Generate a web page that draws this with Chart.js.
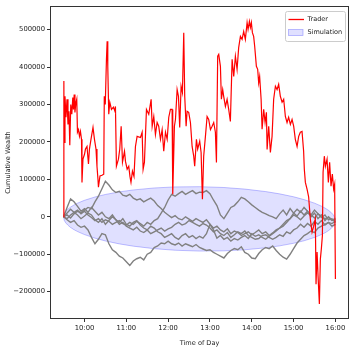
<!DOCTYPE html>
<html><head><meta charset="utf-8">
<script src="https://cdn.jsdelivr.net/npm/chart.js@4.4.1/dist/chart.umd.min.js"></script>
<style>html,body{margin:0;padding:0;background:#fff}#wrap{width:354px;height:355px;position:relative}</style>
</head><body><div id="wrap"><canvas id="c" width="354" height="355"></canvas></div>
<script>
// x tick labels (time of day) and y tick values
const xTickLabels = ['10:00','11:00','12:00','13:00','14:00','15:00','16:00'];
const yTickValues = [-200000,-100000,0,100000,200000,300000,400000,500000];
const dayStart = '9:30';

// Trader cumulative wealth: minutes since 9:30, value in thousands
const traderMinutes = [
 0,0.4,0.7,2.0,3.4,4.9,6.3,7.7,8.9,10.3,
 11.8,13.2,14.2,15.2,16.3,17.5,18.9,19.9,21.4,22.8,
 24.2,25.7,26.4,27.8,30.0,31.4,33.6,35.7,37.1,39.3,
 42.2,44.3,46.5,47.9,49.3,50.0,52.2,55.1,57.6,58.4,
 59.8,61.5,62.5,63.4,64.8,66.3,68.7,71.5,73.7,74.4,
 75.8,78.7,80.6,82.6,84.5,87.4,88.8,91.2,93.5,95.2,
 96.7,98.8,101.0,103.1,105.5,110.3,112.7,114.1,116.0,118.9,
 122.2,125.6,127.1,129.4,131.8,134.2,136.5,139.0,141.4,143.7,
 146.2,148.6,150.9,153.3,155.7,156.6,159.0,160.5,162.9,164.8,
 166.6,168.6,170.5,172.4,173.8,175.8,177.2,179.5,182.0,184.4,
 186.7,188.1,190.6,192.4,195.3,197.3,199.2,201.0,203.5,205.9,
 208.2,210.7,213.1,215.4,217.8,219.3,221.1,222.6,225.0,226.4,
 228.3,229.7,232.2,234.6,236.9,239.3,241.8,244.1,246.5,248.9,
 251.2,253.7,256.1,258.4,260.8,263.3,264.7,266.6,268.0,269.4,
 270.9,272.7,274.2,276.6,278.5,279.9,281.3,283.4,284.8,287.1,
 289.1,291.0,292.0,294.3,296.7,299.1,301.4,303.9,306.3,308.6,
 311.0,313.5,315.8,318.2,320.6,322.9,325.4,327.8,330.1,332.5,
 335.0,337.3,339.7,342.1,344.4,345.4,346.9,349.3,351.6,354.0,
 356.5,358.8,361.2,362.2,363.7,365.1,367.0,368.4,369.8,371.3,
 372.3,374.1,375.6,378.0,379.9,381.7,383.7,385.6,387.5,388.9,
 390.0
];
const traderK = [
 0,363,199,322,266,314,247,282,191,300,
 274,319,287,327,279,303,314,226,233,215,
 228,207,92,154,167,181,188,141,181,207,
 239,207,181,135,101,79,109,111,114,322,
 300,421,469,402,274,306,287,293,282,295,
 135,154,181,242,146,175,148,127,135,108,
 92,122,108,188,215,212,226,127,146,287,
 274,314,242,268,220,252,242,207,233,175,
 226,207,266,287,287,60,242,260,340,322,
 239,349,332,492,322,242,282,279,252,188,
 162,135,207,181,202,172,47,162,215,268,
 260,233,242,252,226,145,429,434,402,314,
 340,322,295,314,287,255,421,375,429,394,
 452,482,474,495,474,519,501,522,506,519,
 492,482,455,402,394,358,375,314,234,287,
 252,279,180,242,172,215,314,349,340,354,
 322,306,314,268,252,266,247,260,242,207,
 188,215,226,228,175,127,92,74,53,-6,
 -41,-25,-6,-180,-94,-158,-233,-113,-86,-51,
 119,162,135,154,92,146,82,114,74,87,
 -166
];

// Simulated paths: sampled every 5 minutes since 9:30, values in thousands
const simMinutes = [
 0,5,10,15,20,25,30,35,40,45,
 50,55,60,65,70,75,80,85,90,95,
 100,105,110,115,120,125,130,135,140,145,
 150,155,160,165,170,175,180,185,190,195,
 200,205,210,215,220,225,230,235,240,245,
 250,255,260,265,270,275,280,285,290,295,
 300,305,310,315,320,325,330,335,340,345,
 350,355,360,365,370,375,380,385,390
];
const simPathA = [
 0,5,-3,8,15,10,18,25,22,40,
 55,75,95,85,72,65,68,58,55,60,
 50,45,48,40,45,50,42,30,22,12,
 5,-2,3,-5,-8,0,-6,-12,-5,-10,
 -15,-8,-20,-30,-25,-35,-40,-32,-45,-38,
 -42,-50,-45,-40,-48,-42,-35,-45,-40,-50,
 -43,-35,-30,-20,-10,-5,5,0,-8,2,
 10,5,-3,8,2,-5,-2,-10,-8
];
const simPathB = [
 0,10,20,12,18,8,15,5,-2,-10,
 -5,-15,-8,-12,-20,-15,-10,-18,-22,-15,
 -20,-12,-18,-25,-15,-20,-10,-5,10,25,
 45,60,55,62,68,60,65,70,62,66,
 65,70,62,45,30,5,-5,10,25,30,
 40,52,48,40,32,25,18,12,8,3,
 0,-5,8,18,5,22,10,2,15,5,
 15,0,10,-5,5,-10,0,-8,-5
];
const simPathC = [
 0,-8,-15,-10,-22,-28,-25,-35,-55,-72,
 -60,-45,-48,-72,-88,-95,-105,-110,-120,-130,
 -118,-112,-108,-115,-100,-95,-82,-78,-70,-72,
 -65,-72,-75,-70,-78,-72,-76,-80,-74,-82,
 -86,-90,-88,-95,-100,-105,-110,-98,-90,-85,
 -88,-80,-95,-100,-110,-112,-98,-88,-82,-85,
 -78,-90,-100,-108,-113,-100,-85,-70,-60,-50,
 -45,-38,-42,-30,-25,-20,-15,-18,-12
];
const simPathD = [
 0,25,48,40,28,15,22,12,25,15,
 5,12,0,-5,5,-8,-15,-5,-20,-25,
 -15,-10,-22,-30,-35,-25,-30,-40,-45,-55,
 -50,-45,-55,-60,-50,-45,-55,-50,-58,-52,
 -57,-45,-20,-35,-57,-50,-60,-55,-65,-58,
 -62,-55,-50,-58,-45,-52,-48,-55,-60,-52,
 -45,-38,-30,-25,-15,-5,10,20,12,25,
 15,5,18,8,-2,5,-8,-5,-15
];
const simPathE = [
 0,-5,5,12,5,-5,2,10,5,-8,
 -15,-5,-20,-10,0,-8,-20,-15,-25,-30,
 -35,-28,-38,-42,-35,-45,-40,-35,-30,-38,
 -32,-28,-20,-15,-22,-18,-10,-15,-20,-25,
 -18,-22,-30,-40,-35,-45,-50,-42,-55,-48,
 -40,-45,-38,-50,-55,-60,-58,-50,-48,-55,
 -60,-55,-48,-52,-40,-45,-35,-30,-20,-28,
 -18,-25,-12,-20,-10,-22,-15,-25,-20
];

// Simulation envelope (band), minutes since 9:30, values in thousands
const bandMinutes = [0,1,3,6,10,15,20,30,45,60,80,100,130,160,195,230,260,290,310,330,345,360,370,375,380,384,387,389,390];
const bandUpperK = [-1,7.7,14,20,26,31.7,36.5,44.1,53,59.7,66.6,71.8,77.1,79.9,80.5,78.3,74.1,67.4,61.3,53.5,46,36.5,28.4,23.4,17.4,11.3,5.1,-1.3,-10];
const bandLowerK = [-1,-9.7,-16,-22,-28.4,-34.4,-39.4,-47.5,-57,-64.5,-72.3,-78.4,-85.1,-89.3,-91.5,-90.9,-88.1,-82.8,-77.6,-70.7,-64,-55.1,-47.4,-42.8,-37,-31.1,-24.9,-18.7,-10];

const seriesLabels = ['Trader','Simulation'];

// ---- build chart ----
function toMinutes(hhmm){const [h,m]=hhmm.split(':').map(Number);const [h0,m0]=dayStart.split(':').map(Number);return (h*60+m)-(h0*60+m0);}
function pts(xs, ys){return xs.map((m,i)=>({x:m, y:ys[i]*1000}));}
const FONT = 'DejaVu Sans';
Chart.defaults.font.family = FONT;

const grayPaths = [simPathA, simPathB, simPathC, simPathD, simPathE];
const datasets = [
  {label: seriesLabels[0], data: pts(traderMinutes, traderK), borderColor:'#ff0000', borderWidth:1.2, pointRadius:0, fill:false, order:0}
];
grayPaths.forEach(p => datasets.push({label:'_path', data: pts(simMinutes, p), borderColor:'#808080', borderWidth:1.4, pointRadius:0, fill:false, order:1}));
datasets.push({label: seriesLabels[1], data: pts(bandMinutes, bandUpperK), borderColor:'rgba(0,0,255,0.3)', backgroundColor:'rgba(0,0,255,0.12)', borderWidth:0.8, pointRadius:0, fill:'+1', order:2});
datasets.push({label:'_lower', data: pts(bandMinutes, bandLowerK), borderColor:'rgba(0,0,255,0.3)', borderWidth:0.8, pointRadius:0, fill:false, order:2});

const xMinData = toMinutes('9:30'), xMaxData = toMinutes('16:00');
const xPad = (xMaxData - xMinData) * 0.05;

const framePlugin = {
  id: 'frameLegend',
  afterDraw(chart){
    const {ctx, chartArea:a} = chart;
    ctx.save();
    ctx.strokeStyle = '#333';
    ctx.lineWidth = 1;
    ctx.strokeRect(Math.round(a.left)+0.5, Math.round(a.top)+0.5, Math.round(a.right-a.left)-1, Math.round(a.bottom-a.top)-1);
    // legend
    const bx = 285.5, by = 11.5, bw = 60, bh = 30, r = 2;
    ctx.beginPath();
    ctx.moveTo(bx+r, by); ctx.lineTo(bx+bw-r, by); ctx.quadraticCurveTo(bx+bw, by, bx+bw, by+r);
    ctx.lineTo(bx+bw, by+bh-r); ctx.quadraticCurveTo(bx+bw, by+bh, bx+bw-r, by+bh);
    ctx.lineTo(bx+r, by+bh); ctx.quadraticCurveTo(bx, by+bh, bx, by+bh-r);
    ctx.lineTo(bx, by+r); ctx.quadraticCurveTo(bx, by, bx+r, by);
    ctx.fillStyle = 'rgba(255,255,255,0.8)'; ctx.fill();
    ctx.strokeStyle = '#cccccc'; ctx.lineWidth = 1; ctx.stroke();
    ctx.strokeStyle = '#ff0000'; ctx.lineWidth = 1.3;
    ctx.beginPath(); ctx.moveTo(288.5, 19.5); ctx.lineTo(304, 19.5); ctx.stroke();
    ctx.fillStyle = 'rgba(0,0,255,0.12)'; ctx.fillRect(288.5, 29.5, 14.5, 6);
    ctx.strokeStyle = 'rgba(0,0,255,0.3)'; ctx.lineWidth = 0.8; ctx.strokeRect(288.5, 29.5, 14.5, 6);
    ctx.fillStyle = '#222'; ctx.font = '6.5px "' + FONT + '"'; ctx.textBaseline = 'middle'; ctx.textAlign = 'left';
    ctx.fillText(seriesLabels[0], 307.5, 19.5);
    ctx.fillText(seriesLabels[1], 307.5, 32.8);
    ctx.restore();
  }
};

new Chart(document.getElementById('c'), {
  type: 'line',
  data: { datasets },
  options: {
    responsive: false, animation: false, devicePixelRatio: 1,
    layout: { padding: { left: 0, right: 5, top: 6, bottom: 0 } },
    plugins: { legend: { display: false }, tooltip: { enabled: false } },
    elements: { line: { tension: 0 } },
    scales: {
      x: {
        type: 'linear', min: xMinData - xPad, max: xMaxData + xPad,
        afterBuildTicks: s => { s.ticks = xTickLabels.map(l => ({ value: toMinutes(l) })); },
        afterFit: s => { s.height = 36; },
        ticks: { callback: (v, i) => xTickLabels[i], font: { size: 6.8 }, color: '#222', padding: 2, maxRotation: 0, autoSkip: false },
        grid: { drawOnChartArea: false, tickLength: 3, color: '#333', tickColor: '#333' },
        border: { display: false },
        title: { display: true, text: 'Time of Day', font: { size: 6.6 }, color: '#222', padding: { top: 0, bottom: 8 } }
      },
      y: {
        type: 'linear', min: -273000, max: 563000,
        afterBuildTicks: s => { s.ticks = yTickValues.map(v => ({ value: v })); },
        afterFit: s => { s.width = 50; },
        ticks: { callback: v => (v < 0 ? '\u2212' + Math.abs(v) : String(v)), font: { size: 6.8 }, color: '#222', padding: 2, autoSkip: false },
        grid: { drawOnChartArea: false, tickLength: 3, color: '#333', tickColor: '#333' },
        border: { display: false },
        title: { display: true, text: 'Cumulative Wealth', font: { size: 6.6 }, color: '#222', padding: { top: 4, bottom: 0 } }
      }
    }
  },
  plugins: [framePlugin]
});
</script>
</body></html>
